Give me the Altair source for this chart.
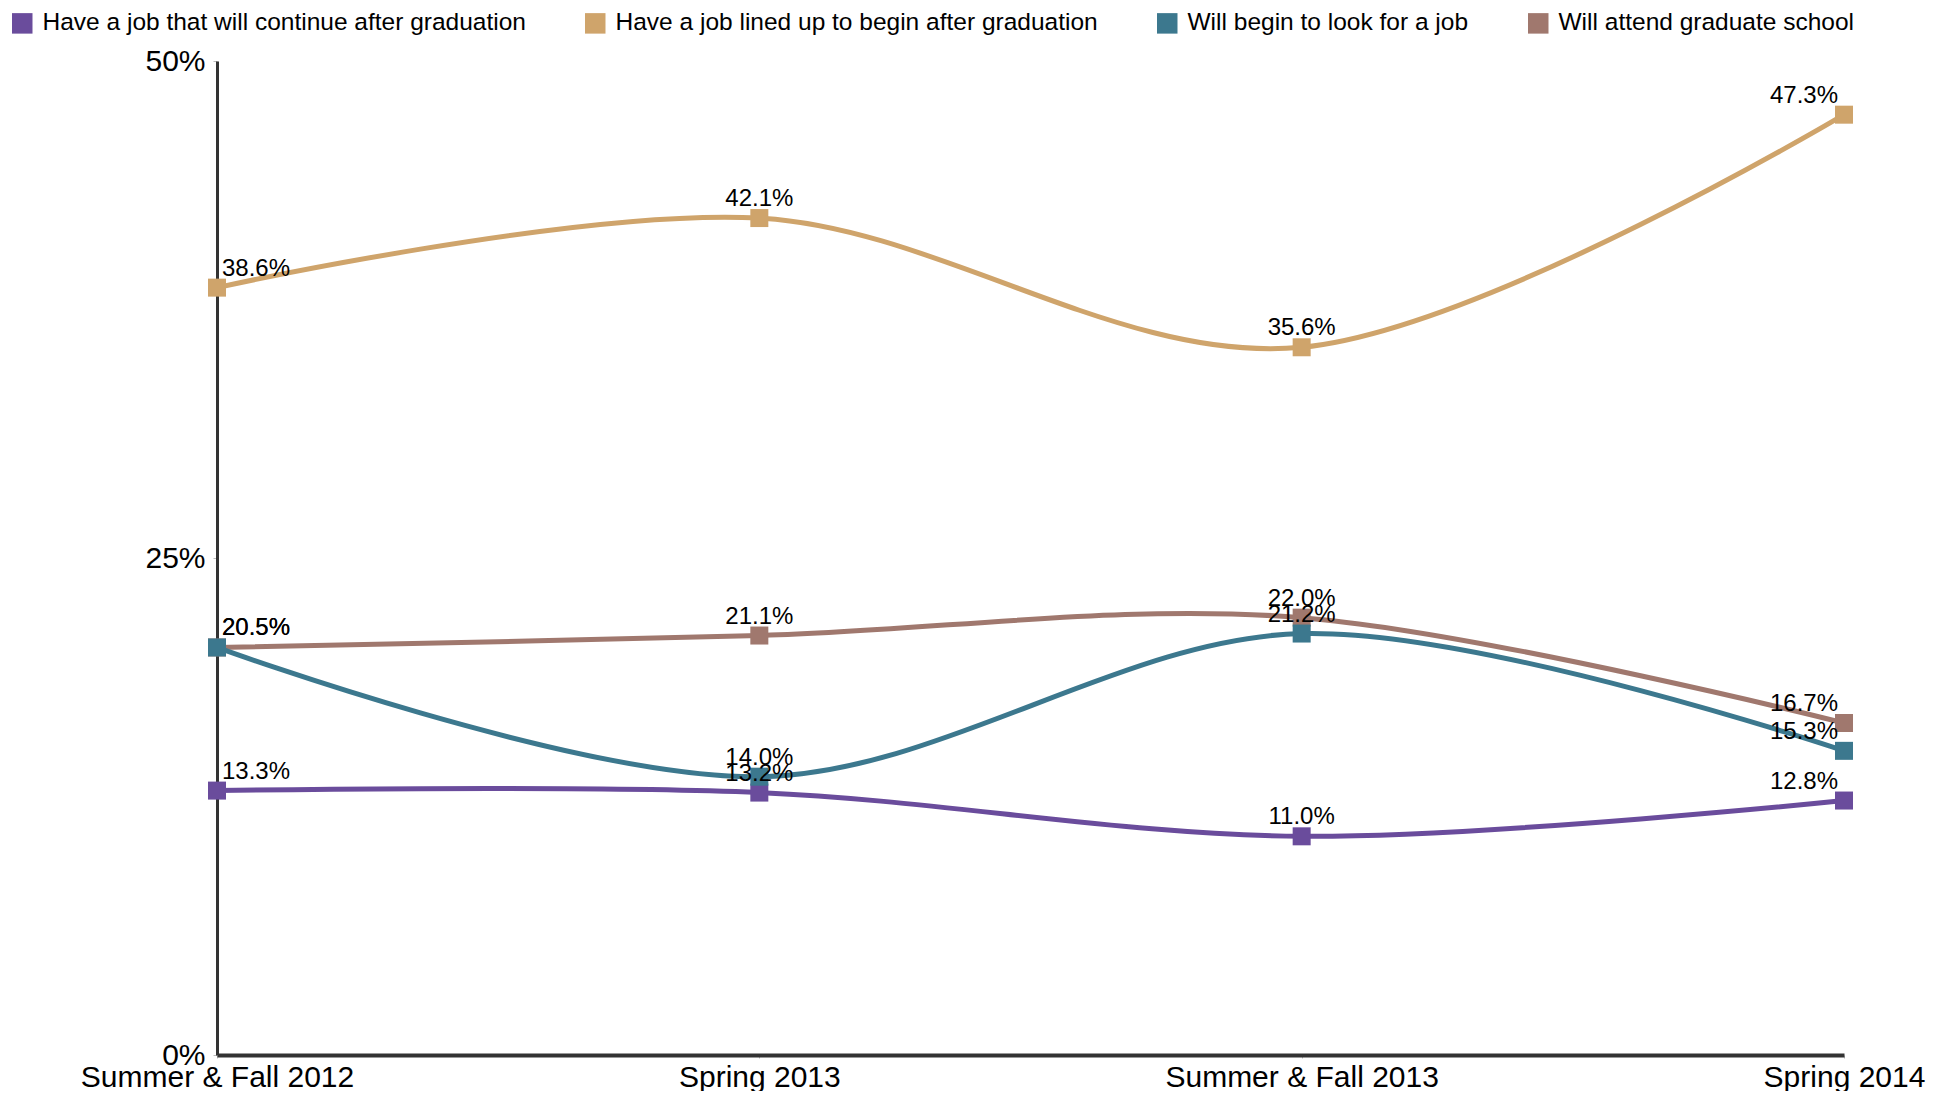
import altair as alt
import pandas as pd

periods = ["Summer & Fall 2012", "Spring 2013", "Summer & Fall 2013", "Spring 2014"]
series_names = [
    "Have a job that will continue after graduation",
    "Have a job lined up to begin after graduation",
    "Will begin to look for a job",
    "Will attend graduate school",
]
colors = ["#6A4C9C", "#CFA46B", "#3C788E", "#A0786E"]

continue_job = [13.3, 13.2, 11.0, 12.8]
lined_up_job = [38.6, 42.1, 35.6, 47.3]
look_for_job = [20.5, 14.0, 21.2, 15.3]
grad_school = [20.5, 21.1, 22.0, 16.7]

values = [continue_job, lined_up_job, look_for_job, grad_school]
draw_order = [0, 1, 3, 2]  # teal drawn last

rows = []
for si in draw_order:
    for pi, p in enumerate(periods):
        rows.append({"series": series_names[si], "period": p, "value": values[si][pi],
                     "label": f"{values[si][pi]:.1f}%", "pidx": pi})
df = pd.DataFrame(rows)

FONT = "Arial, Liberation Sans"

x = alt.X("period:N", sort=periods,
          scale=alt.Scale(type="point", padding=0),
          axis=alt.Axis(title=None, labelAngle=0, labelFontSize=30, labelFont=FONT,
                        labelColor="#000", domainColor="#333", domainWidth=4,
                        tickColor="#bbb", tickSize=3, labelBaseline="alphabetic",
                        labelPadding=28, labelLimit=1000))
y = alt.Y("value:Q", scale=alt.Scale(domain=[0, 50], nice=False),
          axis=alt.Axis(title=None, values=[0, 25, 50], labelExpr="datum.value + '%'",
                        labelFontSize=30, labelFont=FONT, labelColor="#000",
                        domainColor="#333", domainWidth=3, tickColor="#bbb",
                        tickSize=4, labelPadding=8, grid=False))
color = alt.Color("series:N", sort=series_names,
                  scale=alt.Scale(domain=series_names, range=colors),
                  legend=alt.Legend(title=None, orient="none", legendX=-207, legendY=-50,
                                    direction="horizontal", columns=4, columnPadding=57,
                                    symbolType="square", symbolSize=420,
                                    symbolStrokeWidth=0, labelFontSize=24.5,
                                    labelFont=FONT, labelColor="#000", labelOffset=8,
                                    labelLimit=1000))

base = alt.Chart(df)

lines = base.mark_line(interpolate="cardinal", strokeWidth=5).encode(
    x=x, y=y, color=color, detail="series:N")
points = base.mark_point(shape="square", filled=True, size=324, opacity=1).encode(
    x=x, y=y, color=color)

def text_layer(cond, align, dx):
    return base.transform_filter(cond).mark_text(
        align=align, baseline="alphabetic", dx=dx, dy=-12, fontSize=24,
        font=FONT, color="#000").encode(x=x, y=y, text="label:N")

t_first = text_layer("datum.pidx == 0", "left", 5)
t_mid = text_layer("datum.pidx == 1 || datum.pidx == 2", "center", 0)
t_last = text_layer("datum.pidx == 3", "right", -6)

chart = alt.layer(lines, points, t_first, t_mid, t_last).properties(
    width=1627, height=994,
    padding={"left": 209, "top": 53, "right": 100, "bottom": 36},
    autosize=alt.AutoSizeParams(type="none"),
).configure(background="white", view=alt.ViewConfig(stroke=None))

chart.save("out.html", embed_options={"renderer": "svg", "actions": False})
